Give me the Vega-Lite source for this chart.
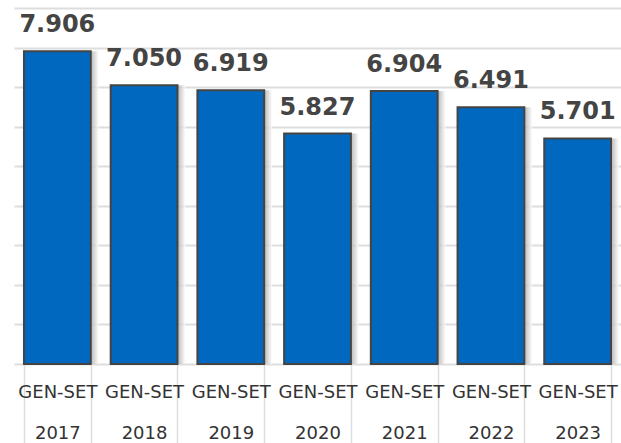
{
  "$schema": "https://vega.github.io/schema/vega-lite/v6.json",
  "width": 607,
  "height": 356,
  "autosize": {"type": "none"},
  "padding": {"left": 14, "top": 8, "right": 0, "bottom": 79},
  "background": "white",
  "config": {
    "view": {"stroke": null},
    "locale": {"number": {"decimal": ",", "thousands": ".", "grouping": [3], "currency": ["", ""]}}
  },
  "data": {
    "values": [
      {"year": "2017", "value": 7906},
      {"year": "2018", "value": 7050},
      {"year": "2019", "value": 6919},
      {"year": "2020", "value": 5827},
      {"year": "2021", "value": 6904},
      {"year": "2022", "value": 6491},
      {"year": "2023", "value": 5701}
    ]
  },
  "encoding": {
    "x": {
      "field": "year",
      "type": "nominal",
      "sort": null,
      "scale": {"paddingInner": 0.23, "paddingOuter": 0.115},
      "axis": {
        "title": null,
        "labelAngle": 0,
        "labelExpr": "datum.label ? ['GEN-SET', datum.label] : ''",
        "labelFont": "DejaVu Sans",
        "labelFontSize": 18,
        "labelColor": "#333333",
        "labelLineHeight": 41,
        "labelPadding": -61,
        "labelBaseline": "top",
        "domain": false,
        "tickBand": "extent",
        "tickSize": 80,
        "tickColor": "#dddddd",
        "tickWidth": 1.5,
        "labelOverlap": false,
        "labelBound": false
      }
    },
    "y": {
      "field": "value",
      "type": "quantitative",
      "scale": {"domain": [0, 9000], "nice": false},
      "axis": {
        "title": null,
        "labels": false,
        "ticks": false,
        "domain": false,
        "labelOverlap": false,
        "values": [0, 1000, 2000, 3000, 4000, 5000, 6000, 7000, 8000, 9000],
        "gridColor": "#dddddd",
        "gridWidth": 2
      }
    }
  },
  "layer": [
    {
      "mark": {
        "type": "bar",
        "xOffset": 8,
        "fill": {
          "gradient": "linear",
          "x1": 0, "y1": 0, "x2": 1, "y2": 0,
          "stops": [
            {"offset": 0, "color": "#888888"},
            {"offset": 0.86, "color": "#999999"},
            {"offset": 1, "color": "#ffffff"}
          ]
        },
        "opacity": 0.8
      }
    },
    {
      "mark": {
        "type": "bar",
        "fill": "#0068bf",
        "stroke": "#444444",
        "strokeWidth": 2
      }
    },
    {
      "mark": {
        "type": "text",
        "font": "DejaVu Sans",
        "fontWeight": "bold",
        "fontSize": 24,
        "color": "#444444",
        "baseline": "alphabetic",
        "dy": -19
      },
      "encoding": {
        "text": {"field": "value", "type": "quantitative", "format": ",d"}
      }
    }
  ]
}
